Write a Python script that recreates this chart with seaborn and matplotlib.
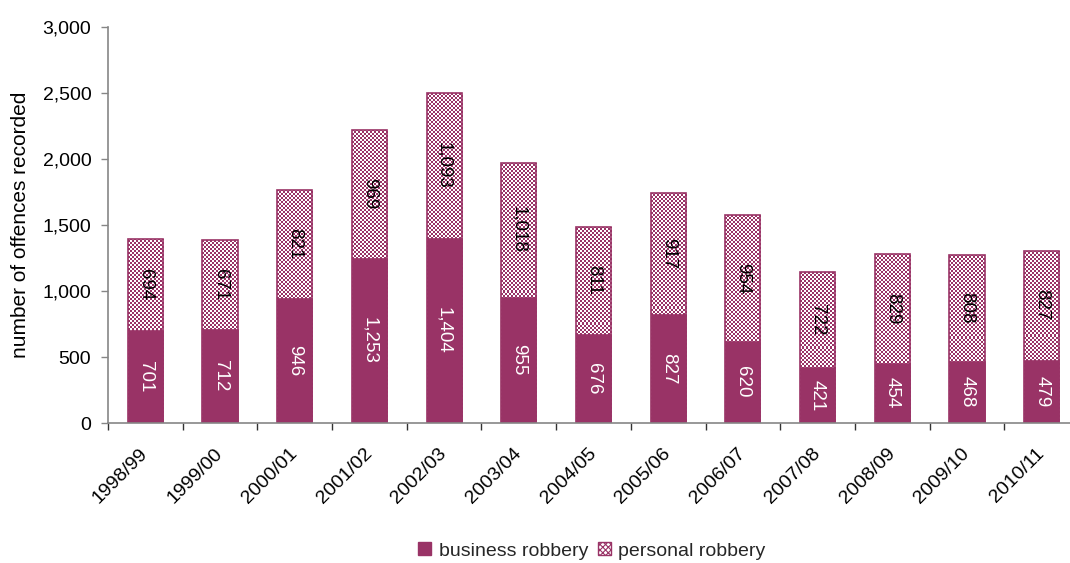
import matplotlib
matplotlib.use("Agg")
import matplotlib.pyplot as plt
import matplotlib.transforms as mtransforms
import seaborn as sns
import numpy as np
import pandas as pd
from matplotlib.patches import Patch
from matplotlib.ticker import FuncFormatter, FixedLocator
from matplotlib.colors import to_rgba

periods = ["1998/99", "1999/00", "2000/01", "2001/02", "2002/03", "2003/04", "2004/05",
           "2005/06", "2006/07", "2007/08", "2008/09", "2009/10", "2010/11"]
business = [701, 712, 946, 1253, 1404, 955, 676, 827, 620, 421, 454, 468, 479]
personal = [694, 671, 821, 969, 1093, 1018, 811, 917, 954, 722, 829, 808, 827]

PLUM = "#993366"
AXIS_GREY = "#868686"
FS = 14

sns.set_theme(style="white")
plt.rcParams["font.family"] = ["Liberation Sans", "DejaVu Sans"]
plt.rcParams["hatch.color"] = PLUM
plt.rcParams["hatch.linewidth"] = 0.8

df = pd.DataFrame({"period": periods, "business": business, "personal": personal})
df["total"] = df["business"] + df["personal"]

fig = plt.figure(figsize=(10.70, 5.63), dpi=100)
ax = fig.add_axes([108 / 1070, 140 / 563, 971 / 1070, 396 / 563])

# personal robbery: the full stack is drawn first and given a checker fill
sns.barplot(data=df, x="period", y="total", color="white", saturation=1,
            edgecolor=PLUM, linewidth=1.2, width=0.47, ax=ax)
stack_patches = list(ax.patches)

ax.set_ylim(0, 3000)
ax.set_xlim(-0.5, len(periods) - 0.5)
ax.set_autoscale_on(False)

cell_px = 2.0
plum_rgba = np.array(to_rgba(PLUM))
white_rgba = np.array(to_rgba("white"))
fig.canvas.draw()
for p in stack_patches:
    x0, y0 = p.get_x(), p.get_y()
    w, h = p.get_width(), p.get_height()
    (px0, py0), (px1, py1) = ax.transData.transform([(x0, y0), (x0 + w, y0 + h)])
    ncols = max(1, int(round((px1 - px0) / cell_px)))
    nrows = max(1, int(round((py1 - py0) / cell_px)))
    rr, cc = np.indices((nrows, ncols))
    mask = (rr + cc) % 2 == 0
    img = np.where(mask[..., None], plum_rgba, white_rgba)
    im = ax.imshow(img, extent=(x0, x0 + w, y0, y0 + h), origin="lower",
                   aspect="auto", interpolation="nearest", zorder=p.get_zorder() + 0.05)
    im.set_clip_path(p)
    p.set_facecolor("none")
    p.set_zorder(p.get_zorder() + 0.1)

# business robbery: solid segment over the lower part of each stack
sns.barplot(data=df, x="period", y="business", color=PLUM, saturation=1,
            edgecolor=PLUM, linewidth=0.5, width=0.47, ax=ax)
for p in ax.patches[len(stack_patches):]:
    p.set_zorder(p.get_zorder() + 0.2)

ax.set_ylim(0, 3000)
ax.set_xlim(-0.5, len(periods) - 0.5)
ax.yaxis.set_major_locator(FixedLocator(np.arange(0, 3001, 500)))
ax.yaxis.set_major_formatter(FuncFormatter(lambda v, _: f"{int(v):,}"))

ax.set_xlabel("")
ax.set_ylabel("number of offences recorded", fontsize=15, color="black", labelpad=9)

for s in ["top", "right"]:
    ax.spines[s].set_visible(False)
for s in ["left", "bottom"]:
    ax.spines[s].set_color(AXIS_GREY)
    ax.spines[s].set_linewidth(1.2)
    ax.spines[s].set_zorder(5)

ax.tick_params(axis="y", which="major", left=True, length=5, width=1, color=AXIS_GREY,
               labelsize=FS, labelcolor="black", pad=7)
# category ticks sit between bars
ax.set_xticks(np.arange(len(periods)))
ax.set_xticklabels(periods, rotation=45, ha="right", rotation_mode="anchor",
                   fontsize=FS, color="black")
ax.tick_params(axis="x", which="major", bottom=False, pad=10)
shift = mtransforms.ScaledTranslation(-6 / 100, 0, fig.dpi_scale_trans)
for lbl in ax.get_xticklabels():
    lbl.set_transform(lbl.get_transform() + shift)
ax.set_xticks(np.arange(len(periods) + 1) - 0.5, minor=True)
ax.tick_params(axis="x", which="minor", bottom=True, length=5, width=1, color="#333333")

# value labels
for i, (b, p) in enumerate(zip(business, personal)):
    ax.text(i, b / 2, f"{b:,}", rotation=270, ha="center", va="center",
            color="white", fontsize=13.5, zorder=6)
    ax.text(i, b + p / 2, f"{p:,}", rotation=270, ha="center", va="center",
            color="black", fontsize=13.5, zorder=6)

handles = [Patch(facecolor=PLUM, edgecolor=PLUM, label="business robbery"),
           Patch(facecolor="white", edgecolor=PLUM, hatch="xxxxxx", label="personal robbery")]
fig.legend(handles=handles, loc="center", bbox_to_anchor=(592 / 1070, 1 - 551 / 563),
           ncol=2, frameon=False, fontsize=FS, handlelength=0.65, handleheight=0.65,
           handletextpad=0.4, columnspacing=0.5)

fig.savefig("out.png", dpi=100)
